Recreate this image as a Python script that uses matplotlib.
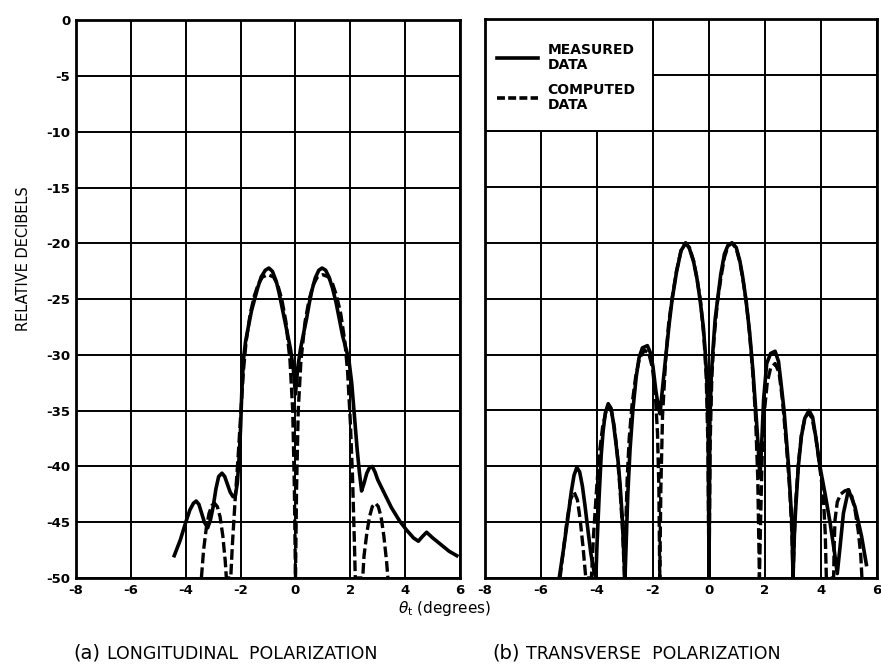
import numpy as np
import matplotlib
matplotlib.use("Agg")
import matplotlib.pyplot as plt
from matplotlib.patches import Rectangle
from matplotlib.lines import Line2D

plt.rcParams['axes.unicode_minus'] = False
plt.rcParams['font.family'] = ['DejaVu Sans']

# (a) longitudinal polarization, measured
a_meas_x = [-4.42, -4.2, -4.0, -3.85, -3.72, -3.62, -3.52, -3.42, -3.32, -3.2, -3.1, -3.0,
            -2.9, -2.8, -2.68, -2.58, -2.48, -2.38, -2.28, -2.2, -2.12, -2.05, -2.0, -1.96,
            -1.9, -1.82, -1.72, -1.6, -1.49, -1.38, -1.25, -1.1, -0.97, -0.84, -0.7, -0.6,
            -0.5, -0.4, -0.3, -0.18, -0.08, 0.0, 0.08, 0.18, 0.3, 0.4, 0.5, 0.6, 0.72, 0.85,
            0.97, 1.1, 1.22, 1.35, 1.48, 1.6, 1.72, 1.85, 1.95, 2.05, 2.15, 2.25, 2.33, 2.41,
            2.5, 2.6, 2.7, 2.8, 2.9, 3.0, 3.2, 3.5, 3.8, 4.05, 4.3, 4.48, 4.62, 4.78, 5.0,
            5.3, 5.6, 5.88]
a_meas_y = [-48.0, -46.6, -45.0, -43.9, -43.3, -43.1, -43.4, -44.2, -45.0, -45.5, -44.8, -43.6,
            -42.0, -40.9, -40.6, -40.9, -41.6, -42.3, -42.7, -42.7, -41.5, -39.0, -36.5, -33.5,
            -30.5, -28.8, -27.5, -26.0, -25.0, -24.0, -23.0, -22.4, -22.2, -22.5, -23.4, -24.4,
            -25.6, -26.8, -28.0, -29.5, -31.2, -33.5, -31.2, -29.5, -28.0, -26.8, -25.4, -24.2,
            -23.1, -22.4, -22.2, -22.4, -23.0, -24.0, -25.3, -26.8, -28.3, -29.5, -30.5, -32.5,
            -35.5, -38.5, -40.5, -42.2, -41.5, -40.6, -40.1, -40.0, -40.5, -41.2, -42.2, -43.7,
            -44.9, -45.7, -46.4, -46.7, -46.3, -45.9, -46.4, -47.0, -47.6, -48.0]

# (a) longitudinal polarization, computed
a_comp_x = [-3.43, -3.35, -3.25, -3.15, -3.05, -2.95, -2.85, -2.75, -2.65, -2.56, -2.52,
            -2.36, -2.3, -2.2, -2.1, -2.0, -1.9, -1.8, -1.65, -1.5, -1.35, -1.2, -1.0, -0.8,
            -0.65, -0.5, -0.35, -0.2, -0.1, -0.04, 0.0, 0.04, 0.1, 0.2, 0.35, 0.5, 0.65, 0.8,
            1.0, 1.2, 1.35, 1.5, 1.65, 1.8, 1.9, 2.0, 2.08, 2.15, 2.18,
            2.45, 2.5, 2.6, 2.7, 2.8, 2.92, 3.02, 3.12, 3.22, 3.32, 3.37]
a_comp_y = [-50, -47.5, -45.5, -44.2, -43.5, -43.3, -43.6, -44.5, -46.2, -48.5, -50,
            -50, -47.0, -43.0, -39.5, -35.5, -31.5, -28.8, -26.3, -24.7, -23.6, -23.0, -22.8, -23.0,
            -23.7, -25.0, -27.0, -30.5, -35.0, -42.0, -50, -42.0, -35.0, -30.5, -27.0, -25.0, -23.7, -23.0,
            -22.8, -23.0, -23.6, -24.7, -26.3, -28.8, -31.5, -36.0, -41.0, -47.0, -50,
            -50, -48.0, -46.0, -44.5, -43.6, -43.3, -43.6, -44.5, -46.2, -48.5, -50]

# (b) transverse polarization, measured
b_meas_x = [-5.35, -5.2, -5.05, -4.92, -4.82, -4.72, -4.62, -4.52, -4.42, -4.32, -4.22, -4.1,
            -4.04, -4.0, -3.92, -3.85, -3.78, -3.7, -3.6, -3.5, -3.42, -3.33, -3.25, -3.18,
            -3.1, -3.04, -3.0, -2.96, -2.9, -2.82, -2.72, -2.6, -2.5, -2.38, -2.2, -2.1, -2.0,
            -1.9, -1.8, -1.75, -1.7, -1.62, -1.52, -1.42, -1.32, -1.16, -1.0, -0.83, -0.7,
            -0.55, -0.43, -0.32, -0.2, -0.14, -0.08, -0.03, 0.0, 0.03, 0.08, 0.14, 0.22, 0.32,
            0.42, 0.55, 0.68, 0.82, 0.97, 1.1, 1.2, 1.32, 1.45, 1.57, 1.67, 1.75, 1.82, 1.88,
            1.95, 2.06, 2.2, 2.36, 2.48, 2.56, 2.68, 2.84, 2.96, 3.0, 3.05, 3.09, 3.19, 3.3,
            3.42, 3.57, 3.7, 3.82, 3.96, 4.14, 4.32, 4.48, 4.58, 4.68, 4.8, 4.98, 5.21, 5.45,
            5.62]
b_meas_y = [-50, -47.5, -44.8, -42.3, -40.8, -40.1, -40.5, -41.8, -43.7, -45.8, -47.8, -49.5,
            -50, -47.0, -42.5, -39.0, -36.8, -35.2, -34.4, -34.8, -36.0, -37.8, -39.5, -41.5,
            -44.5, -48.0, -50, -47.0, -42.5, -38.5, -35.0, -32.0, -30.3, -29.4, -29.2, -29.8, -31.1,
            -33.2, -34.8, -35.3, -34.0, -32.0, -29.6, -27.2, -25.1, -22.6, -20.7, -20.0, -20.5,
            -21.7, -23.2, -25.1, -27.6, -29.6, -32.0, -36.0, -50, -36.0, -32.0, -29.6, -26.8, -24.8,
            -22.8, -21.0, -20.2, -20.0, -20.4, -21.6, -23.0, -25.1, -28.0, -31.5, -35.0, -38.0, -41.0, -38.0,
            -34.0, -30.8, -29.9, -29.7, -30.6, -32.3, -35.0, -40.0, -45.0, -50, -46.0, -44.0, -40.0, -37.3,
            -35.7, -35.0, -35.6, -37.5, -40.0, -42.4, -45.0, -47.7, -49.6, -47.2, -44.2, -42.1, -43.6, -46.3,
            -48.8]

# (b) transverse polarization, computed
b_comp_x = [-5.32, -5.2, -5.08, -4.95, -4.82, -4.7, -4.6, -4.5, -4.4,
            -4.2, -4.12, -4.0, -3.9, -3.8, -3.68, -3.58, -3.48, -3.38, -3.28, -3.18, -3.08, -3.02,
            -2.98, -2.92, -2.85, -2.75, -2.62, -2.48, -2.3, -2.15, -2.02, -1.92, -1.84, -1.79, -1.76,
            -1.72, -1.66, -1.55, -1.44, -1.32, -1.16, -1.0, -0.85, -0.7, -0.55, -0.42, -0.3, -0.18,
            -0.1, -0.04, 0.0, 0.04, 0.1, 0.18, 0.3, 0.42, 0.55, 0.68, 0.82, 0.97, 1.1, 1.22, 1.34,
            1.45, 1.56, 1.66, 1.74, 1.8, 1.84, 1.9, 1.98, 2.08, 2.2, 2.36, 2.5, 2.62, 2.76, 2.88,
            2.96, 3.0, 3.05, 3.1, 3.2, 3.3, 3.42, 3.55, 3.68, 3.82, 3.96, 4.08, 4.15, 4.19,
            4.45, 4.47, 4.5, 4.58, 4.7, 4.85, 4.98, 5.1, 5.22, 5.33, 5.42, 5.46]
b_comp_y = [-50, -47.5, -45.0, -43.0, -42.3, -43.0, -44.8, -47.2, -50,
            -50, -46.0, -41.5, -38.5, -36.5, -35.1, -34.7, -35.1, -36.5, -38.8, -42.0, -46.0, -50,
            -46.0, -41.0, -37.5, -34.5, -32.0, -30.3, -29.6, -29.9, -31.2, -33.5, -37.0, -42.0, -50,
            -42.0, -35.5, -30.5, -27.2, -25.0, -22.5, -20.7, -20.0, -20.4, -21.6, -23.3, -25.3, -28.5,
            -32.0, -38.0, -50, -38.0, -32.0, -28.5, -25.3, -23.2, -21.3, -20.3, -20.0, -20.5, -21.7, -23.4, -25.5,
            -28.2, -31.5, -35.5, -41.0, -50, -45.0, -39.0, -35.0, -32.5, -31.2, -30.8, -31.6, -34.0, -38.0, -42.0,
            -46.0, -50, -46.0, -43.0, -39.5, -37.2, -35.7, -35.2, -35.7, -37.5, -40.2, -42.6, -46.0, -50,
            -50, -47.0, -44.8, -43.2, -42.5, -42.2, -42.1, -42.7, -44.0, -45.8, -48.0, -50]

x_ticks = [-8, -6, -4, -2, 0, 2, 4, 6]
y_ticks = [0, -5, -10, -15, -20, -25, -30, -35, -40, -45, -50]

fig = plt.figure(figsize=(8.81, 6.72), dpi=100)
ax_a = fig.add_axes([0.0863, 0.1399, 0.4359, 0.8296])
ax_b = fig.add_axes([0.5505, 0.1399, 0.4450, 0.8311])

for ax in (ax_a, ax_b):
    ax.set_xlim(-8, 6)
    ax.set_ylim(-50, 0)
    ax.set_xticks(x_ticks)
    ax.set_yticks(y_ticks)
    ax.set_axisbelow(True)
    ax.grid(True, color='black', linewidth=1.4, zorder=0.5)
    ax.tick_params(length=0, pad=4)
    for lab in ax.get_xticklabels():
        lab.set_fontsize(9.5)
        lab.set_fontweight('bold')
    for s in ax.spines.values():
        s.set_linewidth(2.0)
        s.set_color('black')

for lab in ax_a.get_yticklabels():
    lab.set_fontsize(9.5)
    lab.set_fontweight('bold')
ax_b.set_yticklabels([])

solid_kw = dict(color='black', linewidth=2.6, solid_joinstyle='round', zorder=3)
dash_kw = dict(color='black', linewidth=2.4, linestyle=(0, (3.2, 1.2)), zorder=3)

ax_a.plot(a_comp_x, a_comp_y, **dash_kw)
ax_a.plot(a_meas_x, a_meas_y, **solid_kw)
ax_b.plot(b_comp_x, b_comp_y, **dash_kw)
ax_b.plot(b_meas_x, b_meas_y, **solid_kw)

# legend box covering the grid in the upper left of panel (b)
ax_b.add_patch(Rectangle((-8, -10), 6, 10, facecolor='white', edgecolor='black',
                         linewidth=1.4, zorder=1.5))
handles = [Line2D([], [], color='black', linewidth=2.6),
           Line2D([], [], color='black', linewidth=2.6, linestyle=(0, (2.2, 0.9)))]
leg = ax_b.legend(handles, ['MEASURED\nDATA', 'COMPUTED\nDATA'], loc='upper left',
                  bbox_to_anchor=(0.005, 0.975), frameon=False, handlelength=3.0,
                  handletextpad=0.65, labelspacing=0.75, borderaxespad=0.3,
                  prop=dict(size=10, weight='bold'))
for t in leg.get_texts():
    t.set_linespacing(1.1)
leg.set_zorder(4)

ax_a.set_ylabel('RELATIVE DECIBELS', fontsize=10.5)
ax_a.yaxis.set_label_coords(-0.118, 0.573)

fig.text(0.505, 0.095, r'$\theta_{\mathrm{t}}$ (degrees)', fontsize=11, ha='center', va='center')
fig.text(0.083, 0.020, '(a)', fontsize=14, ha='left', va='baseline')
fig.text(0.121, 0.020, 'LONGITUDINAL  POLARIZATION', fontsize=12.5, ha='left', va='baseline')
fig.text(0.559, 0.020, '(b)', fontsize=14, ha='left', va='baseline')
fig.text(0.597, 0.020, 'TRANSVERSE  POLARIZATION', fontsize=12.5, ha='left', va='baseline')

plt.savefig('out.png', dpi=100)
